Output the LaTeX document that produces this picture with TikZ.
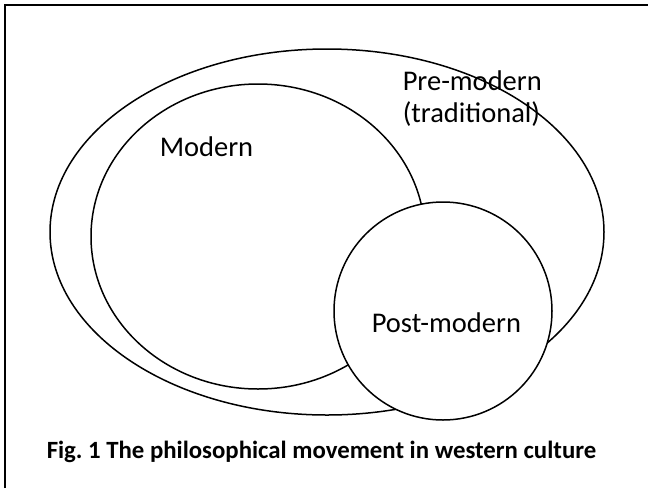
\documentclass[tikz,border=0pt]{standalone}
\usepackage{fontspec}
\setmainfont{Carlito}
\begin{document}
\begin{tikzpicture}[x=1pt, y=-1pt, line width=1.5pt, font=\fontsize{28.5}{33}\selectfont,
		lbl/.style={anchor=base west, inner sep=0pt}]
		\useasboundingbox (0,0) rectangle (648,488);
		\draw[line width=2.5pt] (5,488) -- (5,5) -- (648,5);

		\draw (327,232) ellipse [x radius=277, y radius=183];
		\draw (258,236.5) ellipse [x radius=167, y radius=152.5];
		\draw[fill=white] (443,311) circle [radius=109];

		\node[lbl] (pre) at (402,90) {Pre-modern};
		\node[lbl] (trad) at (402,122) {(traditional)};
		\node[lbl] (mod) at (159,156) {Modern};
		\node[lbl] (post) at (371,332) {Post-modern};
		\node[lbl, font=\fontsize{24.8}{29}\selectfont\bfseries] (cap) at (46,458) {Fig.\ 1 The philosophical movement in western culture};
	\end{tikzpicture}
\end{document}
